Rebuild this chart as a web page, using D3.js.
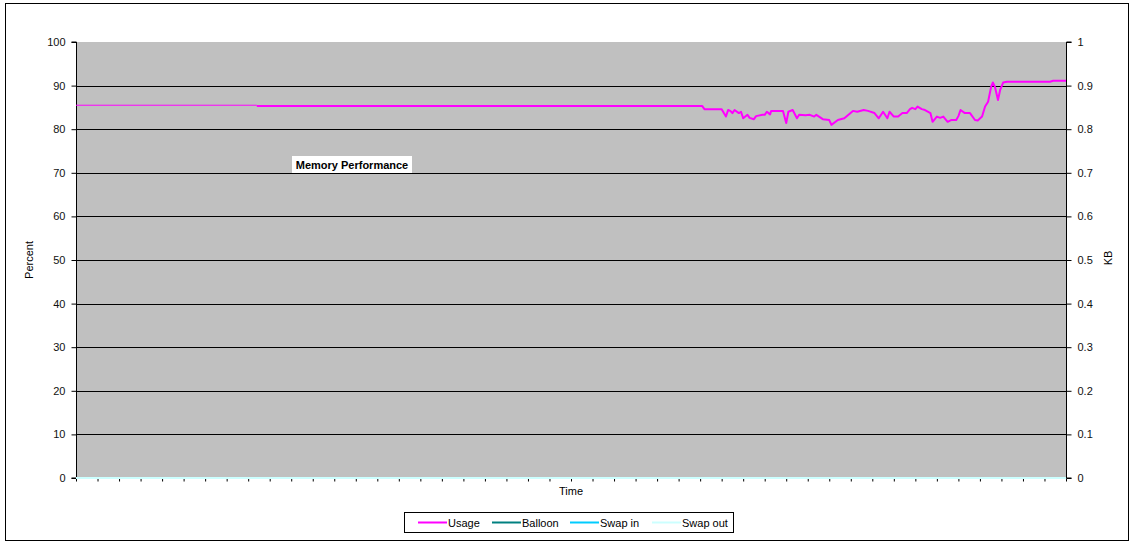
<!DOCTYPE html>
<html><head><meta charset="utf-8">
<script src="https://cdn.jsdelivr.net/npm/d3@7"></script>
<style>
body{margin:0;background:#fff;}
text{font-family:"Liberation Sans",Arial,sans-serif;}
</style></head>
<body><svg id="c" width="1130" height="544"></svg>
<script>
// ---- data ----
const seriesNames = ["Usage","Balloon","Swap in","Swap out"];
const seriesColors = ["#ff00ff","#008080","#00ccff","#ccffff"];
const leftTicks = [0,10,20,30,40,50,60,70,80,90,100];
const rightTicks = [0,0.1,0.2,0.3,0.4,0.5,0.6,0.7,0.8,0.9,1];
const timeMax = 460;
const thinUntil = 84;
const usageTime = [0,84,84,291,292,300,302,303,304,305,306,308,309,310,312,313,315,316,319,320,321,322.5,323,328.5,330,331,333,335,336,339,341,343,344,347,350,351,354,357,361,363,366,368,371,373,375,377,378,380,382,384,386,387.5,388.5,390,391,393,394.5,397,398,400,401.5,403,405,406.6,409,410,411,413,415.4,417.7,419,421,422.4,423.8,425.2,426,427,428.4,429.4,430.8,432.6,452.6,454,460];
const usageVals = [85.5,85.5,85.3,85.3,84.6,84.6,82.9,84.4,84.2,83.7,84.4,83.7,84.0,82.5,83.3,82.6,82.3,83.0,83.3,83.3,84.0,83.4,84.2,84.2,81.4,84.0,84.4,82.5,83.3,83.2,83.3,82.9,83.3,82.3,82.1,81.0,82.1,82.5,84.2,84.0,84.4,84.2,83.7,82.5,84.0,82.5,84.0,82.9,82.9,83.7,83.7,84.6,84.9,84.6,85.2,84.6,84.4,83.7,81.7,82.9,82.6,82.9,81.7,82.1,82.1,83.0,84.4,83.7,83.7,82.1,82.0,82.9,85.2,86.3,89.7,90.7,89.7,86.7,89.0,90.7,90.9,90.9,91.1,91.1];
const zeroTime = [0,460];
const balloonVals = [0,0];
const swapInVals = [0,0];
const swapOutVals = [0,0];

// ---- layout ----
const svg = d3.select("#c");
const L = 76, R = 1066, T = 42, B = 478;
const x = d3.scaleLinear().domain([0,timeMax]).range([L,R]);
const y = d3.scaleLinear().domain([0,100]).range([B,T]);
const y2 = d3.scaleLinear().domain([0,1]).range([B,T]);

// outer border
svg.append("rect").attr("x",5.5).attr("y",3.5).attr("width",1123).attr("height",537)
  .attr("fill","#fff").attr("stroke","#000").attr("stroke-width",1);

// plot bg
svg.append("rect").attr("x",L).attr("y",T).attr("width",R-L).attr("height",B-T).attr("fill","#c0c0c0");

// gridlines
svg.append("g").selectAll("line").data(leftTicks.filter(d=>d>0&&d<100)).join("line")
  .attr("x1",L).attr("x2",R).attr("y1",d=>Math.round(y(d))+0.5).attr("y2",d=>Math.round(y(d))+0.5)
  .attr("stroke","#000").attr("stroke-width",1);

// left axis
const gl = svg.append("g").attr("transform",`translate(${L+0.5},0)`)
  .call(d3.axisLeft(y).tickValues(leftTicks).tickSize(5).tickPadding(6).tickFormat(d3.format("d")));
// right axis
const gr = svg.append("g").attr("transform",`translate(${R+0.5},0)`)
  .call(d3.axisRight(y2).tickValues(rightTicks).tickSize(5).tickPadding(6).tickFormat(d=>d===0||d===1?String(d):d3.format(".1f")(d)));
// bottom axis ticks
const gb = svg.append("g").attr("transform",`translate(0,${B+0.5})`)
  .call(d3.axisBottom(x).tickValues(d3.range(0,timeMax+1,10)).tickSize(3).tickFormat(""));
[gl,gr,gb].forEach(g=>{
  g.selectAll("text").attr("font-family","Liberation Sans, Arial, sans-serif").attr("font-size",11).attr("fill","#111");
  g.selectAll("line").attr("stroke","#000");
  g.select(".domain").attr("stroke","#000");
});
gb.select(".domain").remove();
gl.selectAll("path.domain").attr("d",`M-5,${T}H0V${B}H-5`);
gr.selectAll("path.domain").attr("d",`M5,${T}H0V${B}H5`);

// lines
const line = d3.line().x(d=>x(d[0])).y(d=>y(d[1]));
const usagePts = usageTime.map((t,i)=>[t,usageVals[i]]);
const zeroSeries = [balloonVals,swapInVals,swapOutVals];
zeroSeries.forEach((vals,k)=>{
  svg.append("path").datum(zeroTime.map((t,i)=>[t,vals[i]]))
    .attr("d",line).attr("fill","none").attr("stroke",seriesColors[k+1]).attr("stroke-width",2);
});
svg.append("path").datum(usagePts.filter((d,i)=>d[0]<=thinUntil && i<2))
  .attr("d",line).attr("fill","none").attr("stroke",seriesColors[0]).attr("stroke-width",1);
svg.append("path").datum(usagePts.slice(2))
  .attr("d",line).attr("fill","none").attr("stroke",seriesColors[0]).attr("stroke-width",2).attr("stroke-linejoin","round");

// title box
const tg = svg.append("g");
tg.append("rect").attr("x",292).attr("y",156).attr("width",120).attr("height",17).attr("fill","#fff");
tg.append("text").attr("x",352).attr("y",169).attr("text-anchor","middle")
  .attr("font-size",11).attr("font-weight","bold").attr("fill","#000").text("Memory Performance");

// axis titles
svg.append("text").attr("transform",`translate(33,260) rotate(-90)`).attr("text-anchor","middle")
  .attr("font-size",11).attr("fill","#000").text("Percent");
svg.append("text").attr("transform",`translate(1112,258) rotate(-90)`).attr("text-anchor","middle")
  .attr("font-size",11).attr("fill","#000").text("KB");
svg.append("text").attr("x",571).attr("y",495).attr("text-anchor","middle")
  .attr("font-size",11).attr("fill","#000").text("Time");

// legend
const lg = svg.append("g");
lg.append("rect").attr("x",404.5).attr("y",512.5).attr("width",329).attr("height",20)
  .attr("fill","#fff").attr("stroke","#000").attr("stroke-width",1);
const legX = [418,492,570,652];
seriesNames.forEach((n,i)=>{
  lg.append("line").attr("x1",legX[i]).attr("x2",legX[i]+29).attr("y1",522.5).attr("y2",522.5)
    .attr("stroke",seriesColors[i]).attr("stroke-width",2);
  lg.append("text").attr("x",legX[i]+30).attr("y",526.5)
    .attr("font-size",11).attr("fill","#000").text(n);
});
</script></body></html>
